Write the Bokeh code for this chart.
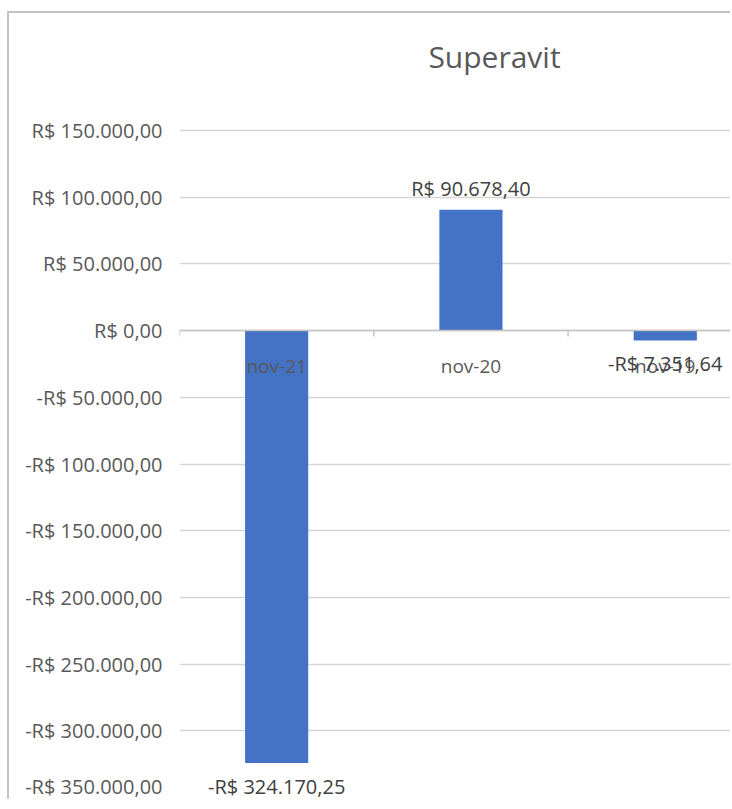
from bokeh.plotting import figure
from bokeh.models import Range1d, FixedTicker, Span, ColumnDataSource, Label
from bokeh.core.properties import value
from bokeh.embed import file_html
from bokeh.resources import INLINE

# ---- data ----
categories = ["nov-21", "nov-20", "nov-19"]
values = [-324170.25, 90678.40, -7351.64]
y_ticks = [-350000, -300000, -250000, -200000, -150000, -100000, -50000, 0, 50000, 100000, 150000]
title_text = "Superavit"


def brl(v):
    s = f"{abs(v):,.2f}".replace(",", "X").replace(".", ",").replace("X", ".")
    return ("-R$ " if v < 0 else "R$ ") + s


y_tick_labels = [brl(t) for t in y_ticks]
value_labels = [brl(v) for v in values]

# ---- layout constants ----
FONT = "Open Sans"
W, H = 723, 788
ML, MB = 170, 4
TOP_PAD = 117           # px from canvas top to the highest gridline
AXIS_H = 667            # px spanned by the value axis ticks
frame_w = W - ML
cat_px = 194.3
x_end = frame_w / cat_px
y_start = y_ticks[0]
px_unit = (y_ticks[-1] - y_ticks[0]) / AXIS_H
y_end = y_ticks[-1] + TOP_PAD * px_unit

p = figure(width=W, height=H, output_backend="svg", toolbar_location=None,
           x_range=Range1d(0, x_end), y_range=Range1d(y_start, y_end),
           min_border_left=ML, min_border_top=0, min_border_bottom=MB, min_border_right=0)
p.styles = {"border-top": "2px solid #c4c4c4", "border-left": "2px solid #c4c4c4",
            "margin-top": "11px", "margin-left": "7px"}
p.outline_line_color = None
p.background_fill_color = "white"
p.border_fill_color = "white"

# chart title (315 px right of the plot-area left edge, 74 px above the top gridline)
p.add_layout(Label(x=315 / cat_px, y=y_ticks[-1] + 74 * px_unit, text=title_text,
                   text_align="center", text_baseline="middle",
                   text_font=FONT, text_font_size="30px", text_color="#595959"))

p.xaxis.visible = False
p.xgrid.visible = False
p.ygrid.grid_line_color = "#d6d6d6"
p.ygrid.grid_line_width = 1.5
p.yaxis.ticker = FixedTicker(ticks=y_ticks)
p.yaxis.major_label_overrides = {t: lab for t, lab in zip(y_ticks, y_tick_labels)}
p.yaxis.axis_line_color = None
p.yaxis.major_tick_line_color = None
p.yaxis.minor_tick_line_color = None
p.yaxis.major_tick_out = 0
p.yaxis.major_tick_in = 0
p.yaxis.major_label_standoff = 17
p.yaxis.major_label_text_font = FONT
p.yaxis.major_label_text_font_size = "20px"
p.yaxis.major_label_text_color = "#595959"

xs = [i + 0.5 for i in range(len(categories))]
src = ColumnDataSource(dict(x=xs, v=values, cat=categories, lab=value_labels,
                            off=[23 if v < 0 else -21 for v in values]))

p.vbar(x="x", top="v", bottom=0, width=0.325, source=src,
       fill_color="#4472C4", line_color=None)

# zero axis line and category boundary ticks
p.add_layout(Span(location=0, dimension="width", line_color="#c4c4c4", line_width=1.5))
bounds = list(range(len(categories) + 1))
p.segment(x0=bounds, x1=bounds, y0=[0] * len(bounds), y1=[-6 * px_unit] * len(bounds),
          line_color="#c4c4c4", line_width=1.5)

# category labels next to the zero axis
p.text(x="x", y=0, text="cat", source=src, y_offset=35, text_align="center",
       text_baseline="middle", text_font=value(FONT), text_font_size="19px",
       text_color="#595959")

# data labels
p.text(x="x", y="v", text="lab", source=src, y_offset="off", text_align="center",
       text_baseline="middle", text_font=value(FONT), text_font_size="20px",
       text_color="#404040")

open("out.html", "w").write(file_html(p, INLINE))
